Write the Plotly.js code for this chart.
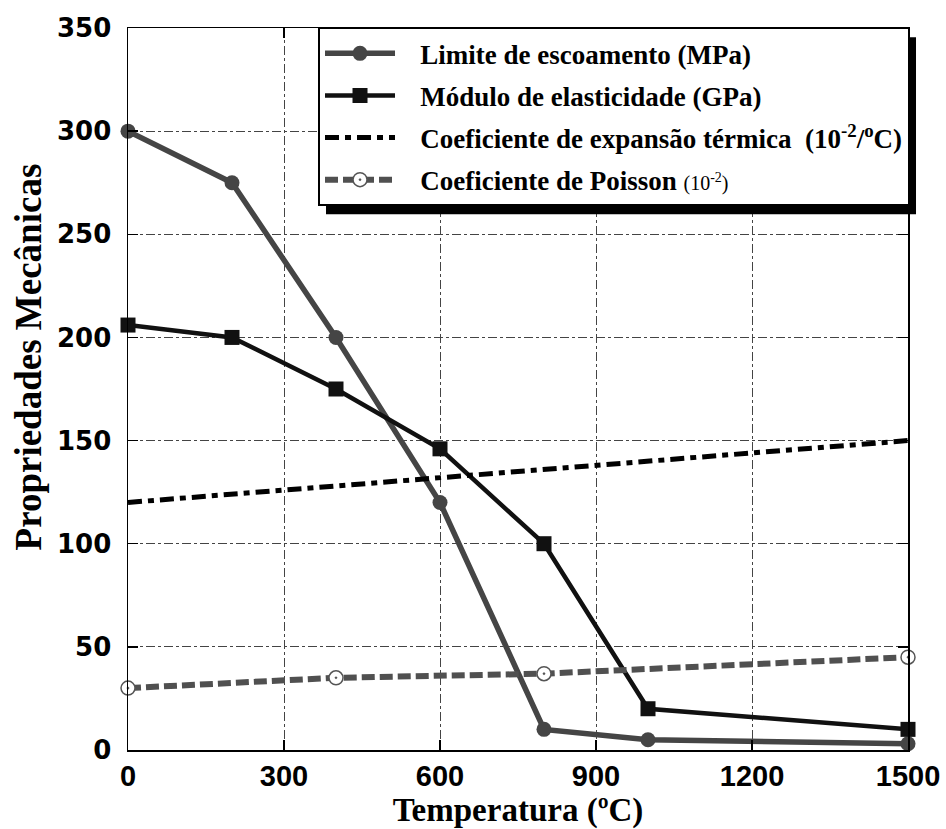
<!DOCTYPE html>
<html>
<head>
<meta charset="utf-8">
<script src="https://cdn.plot.ly/plotly-3.0.1.min.js"></script>
<style>
  html, body { margin: 0; padding: 0; background: #ffffff; }
  #chart { width: 946px; height: 829px; }
</style>
</head>
<body>
<div id="chart"></div>
<script>
// ---- data ----
const temps = [0, 200, 400, 600, 800, 1000, 1500];
const limiteEscoamento = [300, 275, 200, 120, 10, 5, 3];
const moduloElasticidade = [206, 200, 175, 146, 100, 20, 10];
const expansaoTemps = [0, 1500];
const expansaoTermica = [120, 150];
const poissonTemps = [0, 400, 800, 1500];
const coefPoisson = [30, 35, 37, 45];
const xTickVals = [0, 300, 600, 900, 1200, 1500];
const yTickVals = [0, 50, 100, 150, 200, 250, 300, 350];
const pad = '\u00a0\u00a0\u00a0';
const seriesNames = [
  pad + 'Limite de escoamento (MPa)',
  pad + 'Módulo de elasticidade (GPa)',
  pad + 'Coeficiente de expansão térmica  (10<sup>-2</sup>/<sup>o</sup>C)',
  pad + 'Coeficiente de Poisson <span style="font-size:20px;font-weight:normal">(10<sup>-2</sup>)</span>'
];
const xTitle = 'Temperatura (ºC)';
const yTitle = 'Propriedades Mecânicas';

const serif = 'Liberation Serif, Times New Roman, serif';

const traces = [
  {
    x: temps, y: limiteEscoamento, name: seriesNames[0], legendgroup: 'a',
    mode: 'lines+markers', cliponaxis: false,
    line: { color: '#454545', width: 5.5 },
    marker: { symbol: 'circle', size: 15, color: '#454545' }
  },
  {
    x: temps, y: moduloElasticidade, name: seriesNames[1], legendgroup: 'b',
    mode: 'lines+markers', cliponaxis: false,
    line: { color: '#111111', width: 4.5 },
    marker: { symbol: 'square', size: 15, color: '#111111' }
  },
  {
    x: expansaoTemps, y: expansaoTermica, name: seriesNames[2], legendgroup: 'c',
    mode: 'lines', cliponaxis: false,
    line: { color: '#000000', width: 5, dash: '14px,6px,6px,6px' }
  },
  {
    x: poissonTemps, y: coefPoisson, name: seriesNames[3], legendgroup: 'd',
    mode: 'lines+markers', cliponaxis: false,
    line: { color: '#505050', width: 6, dash: '13px,5px' },
    marker: { symbol: 'circle-dot', size: 14, color: '#ffffff', line: { color: '#555555', width: 1.5 } }
  }
];

const layout = {
  width: 946, height: 829,
  margin: { l: 128, r: 38, t: 28, b: 79 },
  paper_bgcolor: '#ffffff', plot_bgcolor: '#ffffff',
  showlegend: true,
  legend: {
    x: 0.2436, y: 1.001, xanchor: 'left', yanchor: 'top',
    bgcolor: '#ffffff', bordercolor: '#000000', borderwidth: 2,
    font: { family: serif, size: 27, color: '#000000', weight: 'bold' },
    traceorder: 'grouped', tracegroupgap: 4, itemwidth: 70
  },
  xaxis: {
    range: [0, 1500], tickvals: xTickVals, ticktext: xTickVals.map(String),
    showline: true, linecolor: '#000000', linewidth: 1.5, mirror: 'ticks',
    ticks: 'inside', ticklen: 10, tickcolor: '#000000', tickwidth: 1.5,
    showgrid: true, gridcolor: '#444444', gridwidth: 1, griddash: 'dashdot',
    zeroline: false,
    ticklabeloverflow: 'allow',
    tickfont: { family: 'Liberation Sans, Arial, sans-serif', size: 29, color: '#000000', weight: 'bold' },
    ticklabelstandoff: 0,
    title: { text: xTitle, standoff: 6, font: { family: serif, size: 33, color: '#000000', weight: 'bold' } }
  },
  yaxis: {
    range: [0, 350], tickvals: yTickVals, ticktext: yTickVals.map(String),
    showline: true, linecolor: '#000000', linewidth: 1.5, mirror: 'ticks',
    ticks: 'inside', ticklen: 10, tickcolor: '#000000', tickwidth: 1.5,
    showgrid: true, gridcolor: '#444444', gridwidth: 1, griddash: 'dashdot',
    zeroline: false,
    tickfont: { family: 'DejaVu Sans, sans-serif', size: 26, color: '#000000', weight: 'bold' },
    ticklabelstandoff: 10
  },
  annotations: [{
    text: yTitle, textangle: -90, showarrow: false,
    xref: 'paper', yref: 'paper', x: -0.127, y: 0.545,
    xanchor: 'center', yanchor: 'middle',
    font: { family: serif, size: 37, color: '#000000', weight: 'bold' }
  }]
};

Plotly.newPlot('chart', traces, layout, { staticPlot: true }).then(function (gd) {
  const bg = gd.querySelector('.legend .bg');
  if (!bg) return;
  const r = bg.getBoundingClientRect();
  const g = gd.getBoundingClientRect();
  const s = gd._fullLayout._size;
  const dx = 7, dy = 9;
  const px2x = function (px) { return (px - g.left - s.l) / s.w; };
  const px2y = function (py) { return 1 - (py - g.top - s.t) / s.h; };
  return Plotly.relayout(gd, {
    shapes: [{
      type: 'rect', xref: 'paper', yref: 'paper', layer: 'above',
      x0: px2x(r.left + dx), x1: px2x(r.right + dx),
      y0: px2y(r.top + dy), y1: px2y(r.bottom + dy),
      fillcolor: '#000000', line: { width: 0 }
    }]
  });
});
</script>
</body>
</html>
